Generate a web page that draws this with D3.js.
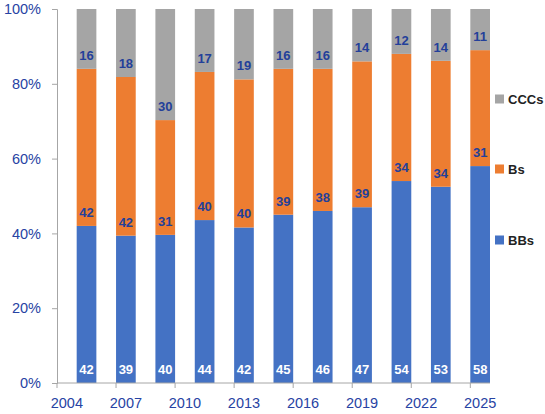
<!DOCTYPE html>
<html>
<head>
<meta charset="utf-8">
<script src="https://cdn.jsdelivr.net/npm/d3@7"></script>
<style>
    body { margin: 0; background: #fff; }
    svg { font-family: "Liberation Sans", Arial, sans-serif; }
</style>
</head>
<body>
<div id="chart"></div>
<script>
// Year slots on the category axis, bars every second year
const years = d3.range(2004, 2026);
const barYears = [2005, 2007, 2009, 2011, 2013, 2015, 2017, 2019, 2021, 2023, 2025];
const tickYears = [2004, 2007, 2010, 2013, 2016, 2019, 2022, 2025];

const BBs = [42, 39, 40, 44, 42, 45, 46, 47, 54, 53, 58];
const Bs = [42, 42, 31, 40, 40, 39, 38, 39, 34, 34, 31];
const CCCs = [16, 18, 30, 17, 19, 16, 16, 14, 12, 14, 11];

const seriesNames = ['BBs', 'Bs', 'CCCs'];
const yTicks = [0, 0.2, 0.4, 0.6, 0.8, 1];

const colors = { BBs: '#4472C4', Bs: '#ED7D31', CCCs: '#A5A5A5' };
const labelColors = { BBs: '#ffffff', Bs: '#23409A', CCCs: '#23409A' };

const width = 545, height = 414;
const margins = { top: 9, right: 55, bottom: 31, left: 57 };

const svg = d3.select('#chart').append('svg')
    .attr('width', width)
    .attr('height', height);

const rows = barYears.map((yr, i) => ({ year: yr, BBs: BBs[i], Bs: Bs[i], CCCs: CCCs[i] }));
const stacked = d3.stack().keys(seriesNames).offset(d3.stackOffsetExpand)(rows);

const x = d3.scaleBand()
    .domain(years)
    .range([margins.left, width - margins.right])
    .padding(0);

const y = d3.scaleLinear()
    .domain([0, 1])
    .range([height - margins.bottom, margins.top]);

// Bars
const layer = svg.append('g').selectAll('g')
    .data(stacked)
    .join('g')
    .attr('fill', d => colors[d.key]);

layer.selectAll('rect')
    .data(d => d)
    .join('rect')
    .attr('x', d => x(d.data.year))
    .attr('width', x.bandwidth())
    .attr('y', d => y(d[1]))
    .attr('height', d => y(d[0]) - y(d[1]));

// Data labels, placed at the inside base of each segment
svg.append('g').selectAll('g')
    .data(stacked)
    .join('g')
    .attr('fill', d => labelColors[d.key])
    .each(function(s) {
        d3.select(this).selectAll('text')
            .data(s)
            .join('text')
            .attr('x', d => x(d.data.year) + x.bandwidth() / 2)
            .attr('y', d => y(d[0]) - 9)
            .attr('text-anchor', 'middle')
            .attr('font-size', 13)
            .attr('font-weight', 'bold')
            .text(d => d.data[s.key]);
    });

// Y axis
const yAxis = svg.append('g')
    .attr('transform', `translate(${margins.left},0)`)
    .call(d3.axisLeft(y)
        .tickValues(yTicks)
        .tickFormat(d3.format('.0%'))
        .tickSize(5)
        .tickPadding(11));
yAxis.select('.domain').attr('stroke', '#a6a6a6');
yAxis.selectAll('.tick line').attr('stroke', '#a6a6a6');
yAxis.selectAll('.tick text')
    .attr('fill', '#2743A3')
    .attr('font-size', 14.5)
    .attr('font-family', '"Liberation Sans", Arial, sans-serif');

// X axis: tick marks at the left edge of the labelled year slot
const xAxis = svg.append('g')
    .attr('transform', `translate(0,${height - margins.bottom})`);
xAxis.append('line')
    .attr('x1', margins.left)
    .attr('x2', width - margins.right)
    .attr('stroke', '#a6a6a6');
const xt = xAxis.selectAll('.xtick')
    .data(tickYears)
    .join('g')
    .attr('class', 'xtick');
xt.append('line')
    .attr('x1', d => x(d))
    .attr('x2', d => x(d))
    .attr('y1', 0)
    .attr('y2', 5)
    .attr('stroke', '#a6a6a6');
xt.append('text')
    .attr('x', d => x(d) + x.bandwidth() / 2)
    .attr('y', 25)
    .attr('text-anchor', 'middle')
    .attr('fill', '#2743A3')
    .attr('font-size', 14.5)
    .text(d => d);

// Legend
const legendY = { CCCs: 99, Bs: 169, BBs: 240 };
const legend = svg.append('g').selectAll('g')
    .data(seriesNames)
    .join('g')
    .attr('transform', d => `translate(495,${legendY[d]})`);
legend.append('rect')
    .attr('x', 0)
    .attr('y', -4.5)
    .attr('width', 9)
    .attr('height', 9)
    .attr('fill', d => colors[d]);
legend.append('text')
    .attr('x', 13)
    .attr('y', 0)
    .attr('dy', '0.35em')
    .attr('font-size', 13)
    .attr('font-weight', 'bold')
    .attr('fill', '#222')
    .text(d => d);
</script>
</body>
</html>
